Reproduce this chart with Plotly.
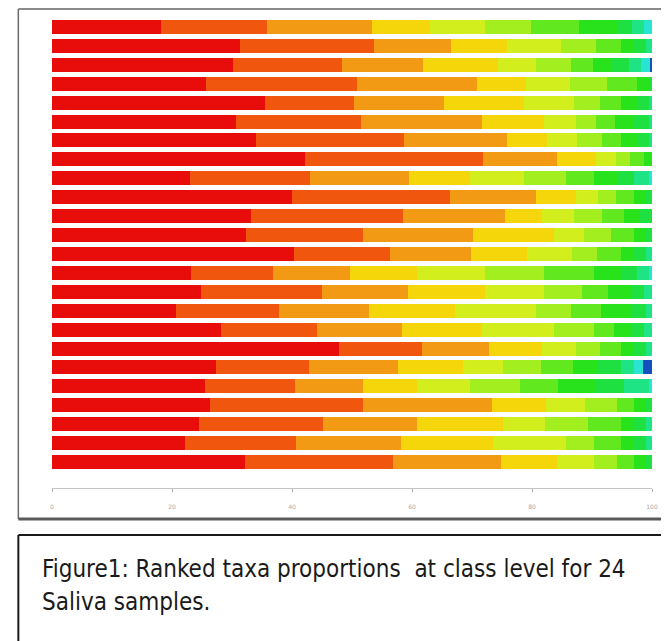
import plotly.graph_objects as go

# Ranked taxa proportions (%) per saliva sample, top row first
samples = [f"S{i}" for i in range(1, 25)]
proportions = [
    [18.1, 17.7, 17.6, 9.6, 9.1, 7.8, 7.9, 6.3, 2.5, 2.1, 1.3],
    [31.3, 22.3, 12.9, 9.4, 8.9, 5.8, 4.3, 2.1, 2.0, 1.0],
    [30.2, 18.2, 13.5, 12.4, 6.4, 5.8, 3.6, 3.3, 2.8, 2.0, 1.5, 0.3],
    [25.7, 25.2, 20.0, 8.1, 7.4, 6.1, 5.0, 2.0, 0.5],
    [35.5, 14.9, 14.9, 13.4, 8.3, 4.3, 3.6, 2.6, 2.0, 0.5],
    [30.7, 20.8, 20.1, 10.4, 5.4, 3.2, 3.2, 3.2, 2.5, 0.5],
    [34.0, 24.6, 17.3, 6.6, 5.0, 4.1, 3.3, 2.6, 2.0, 0.5],
    [42.2, 29.7, 12.2, 6.6, 3.3, 2.4, 2.3, 1.3],
    [23.0, 20.0, 16.5, 10.1, 9.1, 6.9, 4.8, 3.8, 2.8, 2.5, 0.5],
    [40.0, 26.4, 14.2, 6.8, 3.6, 3.0, 3.0, 2.0, 1.0],
    [33.1, 25.4, 17.0, 6.1, 5.4, 4.6, 3.8, 2.5, 2.1],
    [32.3, 19.5, 18.3, 13.5, 5.1, 4.5, 3.8, 2.0, 1.0],
    [40.4, 16.0, 13.4, 9.4, 7.4, 4.3, 4.0, 2.1, 2.0, 1.0],
    [23.1, 13.7, 12.9, 11.2, 11.2, 9.9, 8.4, 4.5, 2.6, 2.0, 0.5],
    [24.9, 20.1, 14.4, 12.7, 9.9, 6.3, 4.3, 4.0, 2.1, 1.3],
    [20.7, 17.2, 15.0, 14.2, 13.5, 5.9, 5.0, 5.0, 2.5, 1.0],
    [28.2, 16.0, 14.2, 13.2, 12.0, 6.8, 3.3, 3.0, 2.0, 1.3],
    [47.8, 13.9, 11.2, 8.7, 5.8, 4.0, 3.5, 2.1, 2.0, 1.0],
    [27.4, 15.5, 14.7, 10.9, 6.6, 6.4, 5.4, 4.0, 4.0, 2.1, 1.5, 1.5],
    [25.5, 15.0, 11.4, 8.9, 8.9, 8.3, 6.3, 6.3, 4.8, 4.1, 0.5],
    [26.3, 25.6, 21.5, 8.9, 6.6, 5.3, 2.8, 2.0, 1.0],
    [24.5, 20.6, 15.8, 14.2, 7.1, 7.1, 5.6, 2.1, 2.0, 1.0],
    [22.1, 18.6, 17.5, 15.3, 12.2, 4.6, 4.6, 2.1, 2.0, 1.0],
    [32.1, 24.8, 18.0, 9.2, 6.3, 3.8, 2.8, 2.0, 1.0],
]
rank_colors = [
    "#e80c0a", "#f0560e", "#f39a14", "#f4d60a", "#d2ee1c", "#a2ee1e",
    "#62e81e", "#28e21c", "#1ee040", "#1ee486", "#28e4d0", "#1450c0",
]
tick_vals = [0, 20, 40, 60, 80, 100]
tick_text = ["0", "20", "40", "60", "80", "100"]
caption_lines = [
    "Figure1: Ranked taxa proportions  at class level for 24",
    "Saliva samples.",
]

n_ranks = max(len(r) for r in proportions)
fig = go.Figure()
for k in range(n_ranks):
    fig.add_trace(go.Bar(
        x=[r[k] if k < len(r) else 0 for r in proportions],
        y=samples,
        orientation="h",
        marker=dict(color=rank_colors[k % len(rank_colors)], line=dict(width=0)),
        showlegend=False,
        hoverinfo="x+y",
    ))

# page has an 8px body margin; figure is 661x633 so it fits the window
fig.update_layout(
    width=661, height=633,
    margin=dict(l=44, r=11, t=11, b=153, pad=0),
    paper_bgcolor="white", plot_bgcolor="white",
    barmode="stack", bargap=0.26,
    xaxis=dict(
        range=[0, 100], tickvals=tick_vals, ticktext=tick_text,
        showline=True, linecolor="#c4c4c4", linewidth=1,
        ticks="outside", ticklen=3, tickcolor="#b0b0b0",
        showgrid=False, zeroline=False,
        tickfont=dict(size=6, color="#a8a8a8", family="DejaVu Sans"),
        ticklabelstandoff=10,
    ),
    yaxis=dict(
        type="category", range=[24.375, -0.423],
        showticklabels=False, showgrid=False, zeroline=False,
        showline=False, ticks="",
    ),
)

# frame around the chart (paper coordinates outside the plot area)
fx0 = (18 - 52) / 606
fy_top = (488 - 9) / 469
fy_bot = (488 - 519) / 469
cy_top = (488 - 535) / 469
fig.add_shape(type="line", xref="paper", yref="paper", x0=fx0, x1=1.05,
              y0=fy_top, y1=fy_top, line=dict(color="#8a8a8a", width=2))
fig.add_shape(type="line", xref="paper", yref="paper", x0=fx0, x1=fx0,
              y0=fy_top, y1=fy_bot, line=dict(color="#6a6a6a", width=1.5))
fig.add_shape(type="line", xref="paper", yref="paper", x0=fx0, x1=1.05,
              y0=fy_bot, y1=fy_bot, line=dict(color="#5a5a5a", width=3))
# caption box
fig.add_shape(type="line", xref="paper", yref="paper", x0=fx0, x1=1.05,
              y0=cy_top, y1=cy_top, line=dict(color="#1a1a1a", width=2))
fig.add_shape(type="line", xref="paper", yref="paper", x0=fx0, x1=fx0,
              y0=cy_top, y1=-0.4, line=dict(color="#1a1a1a", width=2))

cap_font = dict(size=24, color="#1a1a1a",
                family="Liberation Sans Narrow, DejaVu Sans Condensed, Roboto, sans-serif")
for i, line in enumerate(caption_lines):
    ymid = 569 + i * 33
    fig.add_annotation(
        text=line, xref="paper", yref="paper",
        x=(40 - 52) / 606, y=(488 - ymid) / 469,
        xanchor="left", yanchor="middle", showarrow=False,
        font=cap_font,
    )

fig.write_html("out.html")
